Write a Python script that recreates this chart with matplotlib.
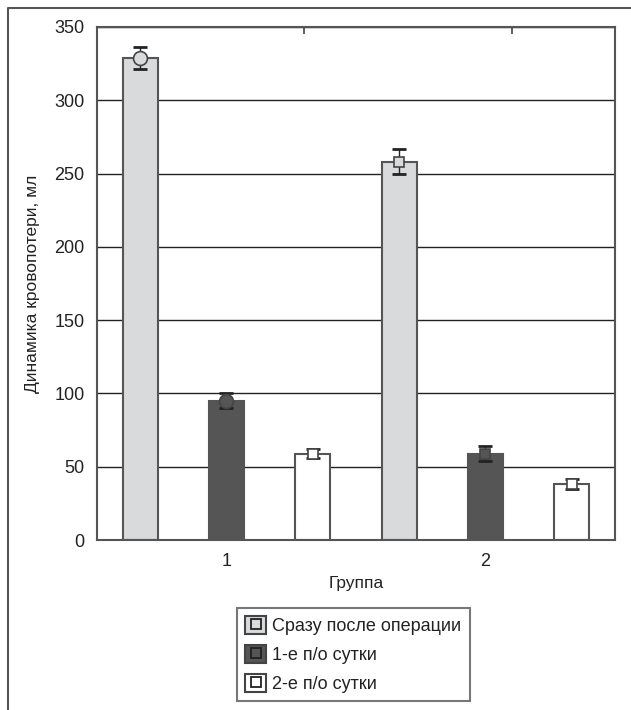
import matplotlib.pyplot as plt
from matplotlib.lines import Line2D
from matplotlib.patches import Patch

plt.rcParams["font.family"] = ["Liberation Sans", "DejaVu Sans"]

groups = [1, 2]
series = ["Сразу после операции", "1-е п/о сутки", "2-е п/о сутки"]
means = {
    "Сразу после операции": [329, 258],
    "1-е п/о сутки": [95, 59],
    "2-е п/о сутки": [59, 38],
}
errs = {
    "Сразу после операции": [7.5, 8.5],
    "1-е п/о сутки": [5.0, 4.9],
    "2-е п/о сутки": [3.3, 3.4],
}
yticks = [0, 50, 100, 150, 200, 250, 300, 350]

colors = ["#d9dadc", "#555556", "#ffffff"]
offsets = [-1 / 3, 0, 1 / 3]
markers = [["o", "s"], ["o", "s"], ["s", "s"]]
edge = "#555555"

fig = plt.figure(figsize=(6.31, 7.10), dpi=100)
ax = fig.add_axes([0.1537, 0.2394, 0.8209, 0.7226])

for ser, col, off, mk in zip(series, colors, offsets, markers):
    xs = [g + off for g in groups]
    ax.bar(xs, means[ser], width=0.135, color=col, edgecolor=edge,
           linewidth=1.5, zorder=2)
    ax.errorbar(xs, means[ser], yerr=errs[ser], fmt="none", ecolor="#222222",
                elinewidth=1.0, capsize=5, capthick=2.0, zorder=3)
    for x, y, m in zip(xs, means[ser], mk):
        ax.plot(x, y, marker=m, markersize=10 if m == "o" else 7.5,
                markerfacecolor=col, markeredgecolor="#444444",
                markeredgewidth=1.2, linestyle="none", zorder=4)

ax.set_xlim(0.5, 2.5)
ax.set_ylim(0, 350)
ax.set_yticks(yticks)
ax.set_xticks(groups)
ax.set_xticklabels([str(g) for g in groups])
ax.yaxis.grid(True, color="#222222", linewidth=1.0, zorder=0)
ax.set_axisbelow(True)
ax.tick_params(axis="both", direction="in", length=5, width=1.2,
               color="#444444", labelsize=13, labelcolor="#222222", pad=9)
ax.tick_params(axis="y", length=0)
for sp in ax.spines.values():
    sp.set_color(edge)
    sp.set_linewidth(1.5)

top = ax.secondary_xaxis("top")
top.set_xticks([1.298, 2.102])
top.set_xticklabels([])
top.tick_params(direction="in", length=5, width=1.2, color="#444444")
top.spines["top"].set_visible(False)

ax.set_ylabel("Динамика кровопотери, мл", fontsize=12.5, color="#222222",
              labelpad=10)
ax.set_xlabel("Группа", fontsize=12.5, color="#222222", labelpad=5)

handles = []
for col in colors:
    handles.append((Patch(facecolor=col, edgecolor="#444444", linewidth=1.5),
                    Line2D([], [], marker="s", markersize=6.5, linestyle="none",
                           markerfacecolor=col, markeredgecolor="#222222",
                           markeredgewidth=1.3)))
leg = fig.legend(handles, series, loc="upper center",
                 bbox_to_anchor=(0.5602, 0.1437), fontsize=13,
                 frameon=True, fancybox=False, edgecolor=edge,
                 handlelength=1.15, handleheight=1.15, handletextpad=0.35,
                 borderpad=0.45, labelspacing=0.55, borderaxespad=0)
leg.get_frame().set_linewidth(1.5)
for t in leg.get_texts():
    t.set_color("#222222")

# outer frame, left and top edges
fig.add_artist(Line2D([8 / 631, 8 / 631, 1.0], [0.0, 1 - 8 / 710, 1 - 8 / 710],
                      transform=fig.transFigure, color=edge, linewidth=1.5))

fig.savefig("out.png", dpi=100)
